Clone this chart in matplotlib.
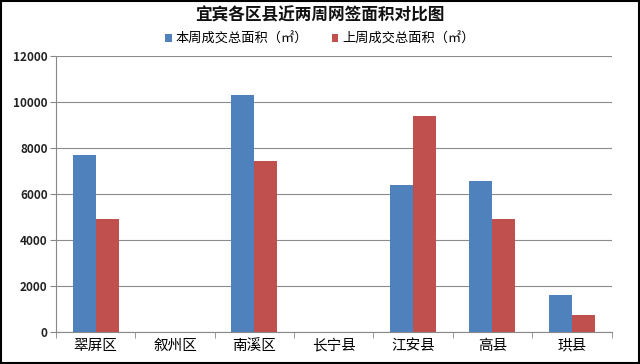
import numpy as np
import matplotlib
matplotlib.use('Agg')
import matplotlib.pyplot as plt
from matplotlib.patches import Rectangle

plt.rcParams['font.family'] = ['Noto Sans CJK SC', 'DejaVu Sans']

# 数据
districts = ['翠屏区', '叙州区', '南溪区', '长宁县', '江安县', '高县', '珙县']
this_week = [7700, 0, 10300, 0, 6380, 6570, 1610]
last_week = [4920, 0, 7430, 0, 9380, 4910, 740]
yticks = [0, 2000, 4000, 6000, 8000, 10000, 12000]

blue = '#4F81BD'
red = '#C0504D'

fig = plt.figure(figsize=(6.4, 3.64), dpi=100)
ax = fig.add_axes([0.0875, 0.088, 0.868, 0.758])

x = np.arange(len(districts))
w = 0.29
ax.bar(x - w / 2, this_week, w, color=blue, label='本周成交总面积（㎡）', zorder=3)
ax.bar(x + w / 2, last_week, w, color=red, label='上周成交总面积（㎡）', zorder=3)

ax.set_xlim(-0.5, len(districts) - 0.5)
ax.set_ylim(0, 12000)
ax.set_yticks(yticks)
ax.set_yticklabels([str(v) for v in yticks], fontsize=8.5, fontweight='bold', color='#222222')
ax.set_xticks(x)
ax.set_xticklabels(districts, fontsize=10.5)
ax.set_xticks(np.arange(-0.5, len(districts)), minor=True)
ax.tick_params(axis='x', which='major', length=0, pad=5)
ax.tick_params(axis='x', which='minor', length=4, color='#888888', direction='out')
ax.tick_params(axis='y', length=4, color='#888888', direction='out', pad=2)

ax.grid(axis='y', color='#8c8c8c', linewidth=0.8, zorder=0)
for s in ['top', 'right']:
    ax.spines[s].set_visible(False)
for s in ['left', 'bottom']:
    ax.spines[s].set_color('#888888')
    ax.spines[s].set_linewidth(0.8)

fig.text(0.5, 0.958, '宜宾各区县近两周网签面积对比图', ha='center', va='center',
         fontsize=12, fontweight='bold', color='#111111')
fig.legend(loc='center', bbox_to_anchor=(0.5, 0.893), ncol=2, frameon=False,
           fontsize=9.5, handlelength=0.5, handleheight=0.5, columnspacing=1.8,
           handletextpad=0.3)

fig.patches.append(Rectangle((0.002, 0.003), 0.996, 0.994, transform=fig.transFigure,
                             fill=False, edgecolor='black', linewidth=1.5))

fig.savefig('out.png', dpi=100)
